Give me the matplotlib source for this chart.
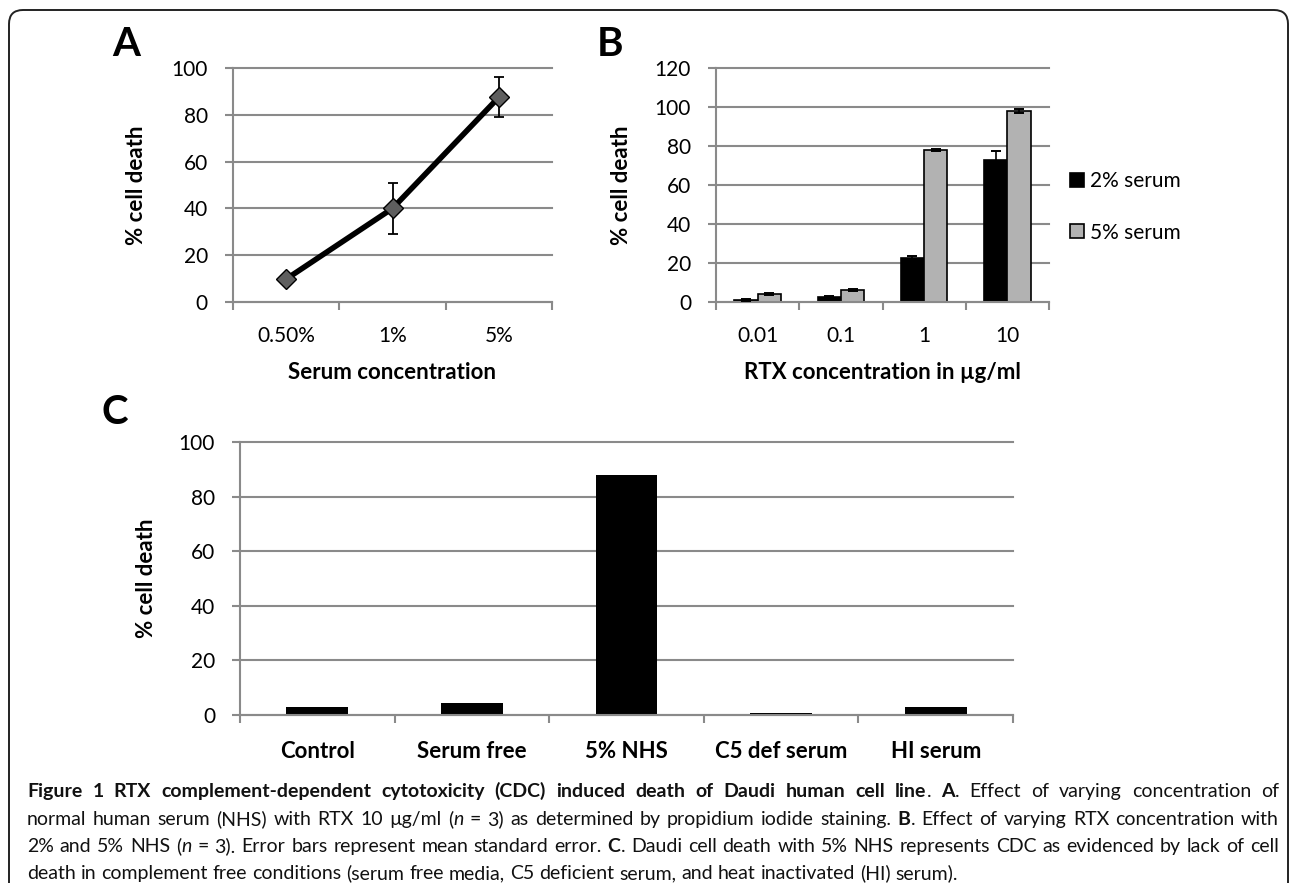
import re
import matplotlib
matplotlib.use('Agg')
import matplotlib.pyplot as plt
from matplotlib.patches import FancyBboxPatch
from matplotlib.transforms import IdentityTransform

W, H = 1290, 883

plt.rcParams['font.family'] = ['Lato', 'DejaVu Sans']

# Panel A: serum concentration
serum_labels = ['0.50%', '1%', '5%']
serum_death = [9.8, 40.0, 87.5]
serum_err = [1.0, 11.0, 8.5]

# Panel B: RTX concentration
rtx_labels = ['0.01', '0.1', '1', '10']
rtx_2pct = [0.9, 2.6, 22.5, 73.0]
rtx_2pct_err = [0.5, 0.5, 0.9, 4.2]
rtx_5pct = [4.2, 6.2, 78.0, 98.0]
rtx_5pct_err = [0.6, 0.4, 0.5, 1.0]

# Panel C: conditions
cond_labels = ['Control', 'Serum free', '5% NHS', 'C5 def serum', 'HI serum']
cond_death = [2.8, 4.3, 88.0, 0.9, 2.9]

caption_lines = [
    "**Figure 1 RTX complement-dependent cytotoxicity (CDC) induced death of Daudi human cell line**. **A**. Effect of varying concentration of",
    "normal human serum (NHS) with RTX 10 µg/ml (*n* = 3) as determined by propidium iodide staining. **B**. Effect of varying RTX concentration with",
    "2% and 5% NHS (*n* = 3). Error bars represent mean standard error. **C**. Daudi cell death with 5% NHS represents CDC as evidenced by lack of cell",
    "death in complement free conditions (serum free media, C5 deficient serum, and heat inactivated (HI) serum).",
]

GRID = '#8a8a8a'
GREY_BAR = '#b2b2b2'


def px_axes(fig, left, top, right, bottom):
    return fig.add_axes([left / W, 1 - bottom / H, (right - left) / W, (bottom - top) / H])


def style_axes(ax, labels, ymax, ystep, label_pad=17, label_size=15, label_weight='normal'):
    n = len(labels)
    ax.set_xlim(0, n)
    ax.set_ylim(0, ymax)
    ax.set_yticks(range(0, ymax + 1, ystep))
    ax.yaxis.grid(True, color=GRID, lw=1.5)
    ax.set_axisbelow(True)
    for line in ax.get_ygridlines():
        line.set_clip_on(False)
    for s in ['top', 'right']:
        ax.spines[s].set_visible(False)
    for s in ['left', 'bottom']:
        ax.spines[s].set_color(GRID)
        ax.spines[s].set_linewidth(1.5)
    ax.set_xticks(range(n + 1))
    ax.set_xticklabels([])
    ax.set_xticks([i + 0.5 for i in range(n)], minor=True)
    ax.set_xticklabels(labels, minor=True, fontsize=label_size, fontweight=label_weight)
    ax.tick_params(axis='both', which='major', color=GRID, width=1.5, length=6,
                   labelsize=15, pad=12)
    ax.tick_params(axis='x', which='minor', length=0, pad=label_pad)


def parse(s):
    segs = []
    for part in re.split(r'(\*\*.+?\*\*|\*.+?\*)', s):
        if not part:
            continue
        if part.startswith('**'):
            segs.append((part[2:-2], 'bold', 'normal'))
        elif part.startswith('*'):
            segs.append((part[1:-1], 'normal', 'italic'))
        else:
            segs.append((part, 'normal', 'normal'))
    words = [[]]
    for text, w, st in segs:
        for i, p in enumerate(text.split(' ')):
            if i > 0:
                words.append([])
            if p:
                words[-1].append((p, w, st))
    return [w for w in words if w]


def draw_caption(fig, lines, x0, x1, baselines, size):
    r = fig.canvas.get_renderer()
    probe = fig.text(0, 0, 'x x', fontsize=size)
    probe2 = fig.text(0, 0, 'xx', fontsize=size)
    space = probe.get_window_extent(r).width - probe2.get_window_extent(r).width
    probe.remove()
    probe2.remove()
    for k, (line, yb) in enumerate(zip(lines, baselines)):
        words = parse(line)
        items = []
        for word in words:
            arts = []
            for text, w, st in word:
                t = fig.text(0, 1 - yb / H, text, fontsize=size, fontweight=w,
                             fontstyle=st, va='baseline', ha='left', color='#111111')
                arts.append((t, t.get_window_extent(r).width))
            items.append(arts)
        total = sum(wd for arts in items for _, wd in arts)
        last = k == len(lines) - 1
        gap = space if last else (x1 - x0 - total) / (len(items) - 1)
        x = x0
        for arts in items:
            for t, wd in arts:
                t.set_x(x / W)
                x += wd
            x += gap


fig = plt.figure(figsize=(W / 100, H / 100), dpi=100)

frame = FancyBboxPatch((9, -30), 1279, 873 + 30, boxstyle='round,pad=0,rounding_size=14',
                       transform=IdentityTransform(), fill=False, ec='#222222', lw=1.4)
fig.add_artist(frame)

# ---- Panel A
axA = px_axes(fig, 233, 68, 552, 302)
style_axes(axA, serum_labels, 100, 20)
xA = [i + 0.5 for i in range(len(serum_labels))]
axA.plot(xA, serum_death, color='black', lw=4, zorder=3, solid_capstyle='round')
axA.errorbar(xA, serum_death, yerr=serum_err, fmt='none', ecolor='black',
             elinewidth=1.3, capsize=3.6, capthick=1.3, zorder=4)
axA.plot(xA, serum_death, 'D', ms=10, mfc='#5f5f5f', mec='black', mew=1, zorder=5)
axA.set_ylabel('% cell death', fontsize=16, fontweight='bold')
axA.yaxis.set_label_coords(-0.27, 0.5)
axA.set_xlabel('Serum concentration', fontsize=16, fontweight='bold')
axA.xaxis.set_label_coords(0.5, -0.30)
axA.xaxis.label.set_va('center')

# ---- Panel B
axB = px_axes(fig, 716, 68, 1049, 302)
style_axes(axB, rtx_labels, 120, 20)
xB = [i + 0.5 for i in range(len(rtx_labels))]
bw = 0.28
b1 = axB.bar([x - bw / 2 for x in xB], rtx_2pct, bw, color='black', ec='black', lw=1.2, zorder=2)
b2 = axB.bar([x + bw / 2 for x in xB], rtx_5pct, bw, color=GREY_BAR, ec='black', lw=1.2, zorder=2)
axB.errorbar([x - bw / 2 for x in xB], rtx_2pct, yerr=rtx_2pct_err, fmt='none', ecolor='black',
             elinewidth=1.2, capsize=3.6, capthick=1.4, zorder=3)
axB.errorbar([x + bw / 2 for x in xB], rtx_5pct, yerr=rtx_5pct_err, fmt='none', ecolor='black',
             elinewidth=1.2, capsize=3.6, capthick=1.4, zorder=3)
axB.set_ylabel('% cell death', fontsize=16, fontweight='bold')
axB.yaxis.set_label_coords(-0.252, 0.5)
axB.set_xlabel('RTX concentration in µg/ml', fontsize=16, fontweight='bold')
axB.xaxis.set_label_coords(0.5, -0.30)
axB.xaxis.label.set_va('center')
axB.legend([b1, b2], ['2% serum', '5% serum'], loc='center left', bbox_to_anchor=(1.063, 0.406),
           frameon=False, fontsize=15, handlelength=0.65, handleheight=0.65,
           handletextpad=0.3, labelspacing=1.5, borderaxespad=0, borderpad=0)

# ---- Panel C
axC = px_axes(fig, 240, 442, 1013, 715)
style_axes(axC, cond_labels, 100, 20, label_pad=19, label_size=16, label_weight='bold')
xC = [i + 0.5 for i in range(len(cond_labels))]
axC.bar(xC, cond_death, 0.4, color='black', zorder=2)
axC.set_ylabel('% cell death', fontsize=16, fontweight='bold')
axC.yaxis.set_label_coords(-0.107, 0.5)

# panel letters
for letter, (lx, ly) in zip('ABC', [(126, 44), (610, 44), (115, 412)]):
    fig.text(lx / W, 1 - ly / H, letter, fontsize=29, fontweight='bold', ha='center', va='center')

draw_caption(fig, caption_lines, 27, 1279, [797, 825, 852, 879], 14)

fig.savefig('out.png', dpi=100)
